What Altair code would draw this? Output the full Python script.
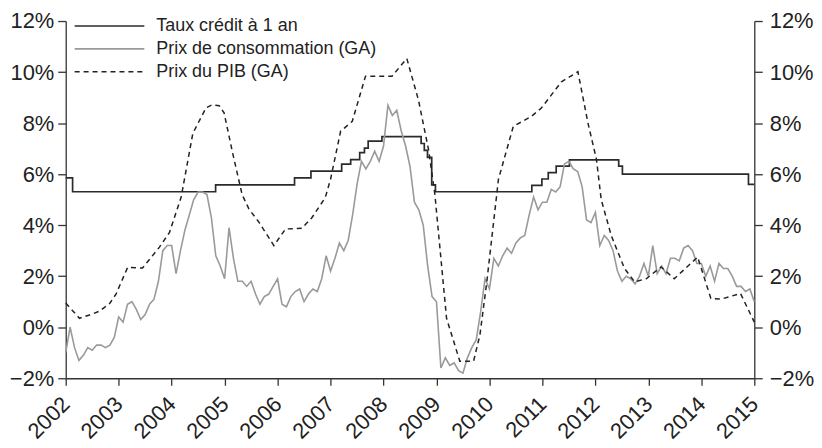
import altair as alt
import pandas as pd

# ---------------- data ----------------
year_ticks = list(range(2002, 2016))
pct_ticks = [-2, 0, 2, 4, 6, 8, 10, 12]

labels = ["Taux crédit à 1 an", "Prix de consommation (GA)", "Prix du PIB (GA)"]

# 1-year lending rate: change dates (decimal years) and level after change
rate_t = [2002.0, 2002.13, 2004.83, 2006.32, 2006.63, 2007.21, 2007.38, 2007.55,
          2007.64, 2007.71, 2007.97, 2008.71, 2008.77, 2008.83, 2008.91, 2008.98,
          2010.80, 2010.99, 2011.11, 2011.26, 2011.51, 2012.44, 2012.51, 2014.89,
          2015.0]
rate_v = [5.85, 5.31, 5.58, 5.85, 6.12, 6.39, 6.57, 6.84,
          7.02, 7.29, 7.47, 7.20, 6.93, 6.66, 5.58, 5.31,
          5.56, 5.81, 6.06, 6.31, 6.56, 6.31, 6.00, 5.60,
          5.60]

# Consumer prices, y/y %, monthly from Jan 2002 to Jan 2015
cpi_v = [
    -1.0, 0.0, -0.8, -1.3, -1.1, -0.8, -0.9, -0.7, -0.7, -0.8, -0.7, -0.4,
    0.4, 0.2, 0.9, 1.0, 0.7, 0.3, 0.5, 0.9, 1.1, 1.8, 3.0, 3.2,
    3.2, 2.1, 3.0, 3.8, 4.4, 5.0, 5.3, 5.3, 5.2, 4.3, 2.8, 2.4,
    1.9, 3.9, 2.7, 1.8, 1.8, 1.6, 1.8, 1.3, 0.9, 1.2, 1.3, 1.6,
    1.9, 0.9, 0.8, 1.2, 1.4, 1.5, 1.0, 1.3, 1.5, 1.4, 1.9, 2.8,
    2.2, 2.7, 3.3, 3.0, 3.4, 4.4, 5.6, 6.5, 6.2, 6.5, 6.9, 6.5,
    7.1, 8.7, 8.3, 8.5, 7.7, 7.1, 6.3, 4.9, 4.6, 4.0, 2.4, 1.2,
    1.0, -1.6, -1.2, -1.5, -1.4, -1.7, -1.8, -1.2, -0.8, -0.5, 0.6, 1.9,
    1.5, 2.7, 2.4, 2.8, 3.1, 2.9, 3.3, 3.5, 3.6, 4.4, 5.1, 4.6,
    4.9, 4.9, 5.4, 5.3, 5.5, 6.4, 6.5, 6.2, 6.1, 5.5, 4.2, 4.1,
    4.5, 3.2, 3.6, 3.4, 3.0, 2.2, 1.8, 2.0, 1.9, 1.7, 2.0, 2.5,
    2.0, 3.2, 2.1, 2.4, 2.1, 2.7, 2.7, 2.6, 3.1, 3.2, 3.0, 2.5,
    2.5, 2.0, 2.4, 1.8, 2.5, 2.3, 2.3, 2.0, 1.6, 1.6, 1.4, 1.5,
    1.0,
]
cpi_t = [2002 + i / 12 for i in range(len(cpi_v))]

# GDP deflator, y/y % (vertices)
gdp_t = [2002.00, 2002.26, 2002.45, 2002.64, 2002.83, 2002.95, 2003.17, 2003.45,
         2003.77, 2003.96, 2004.18, 2004.40, 2004.65, 2004.77, 2004.90, 2004.99,
         2005.15, 2005.33, 2005.46, 2005.65, 2005.93, 2006.15, 2006.46, 2006.65,
         2006.90, 2007.00, 2007.19, 2007.41, 2007.66, 2008.16, 2008.44, 2008.66,
         2008.85, 2008.97, 2009.19, 2009.44, 2009.70, 2009.82, 2009.95, 2010.17,
         2010.45, 2010.79, 2010.98, 2011.36, 2011.67, 2011.86, 2012.02, 2012.11,
         2012.30, 2012.55, 2012.74, 2012.96, 2013.24, 2013.49, 2013.93, 2014.18,
         2014.37, 2014.74, 2015.00]
gdp_v = [0.95, 0.35, 0.48, 0.63, 0.93, 1.3, 2.35, 2.32,
         3.14, 3.72, 5.1, 7.6, 8.6, 8.72, 8.68, 8.4,
         6.84, 5.2, 4.63, 4.11, 3.2, 3.85, 3.88, 4.3,
         5.08, 5.8, 7.68, 8.07, 9.84, 9.84, 10.53, 8.9,
         6.96, 5.2, 0.35, -1.33, -1.33, -0.3, 1.78, 5.8,
         7.87, 8.26, 8.59, 9.62, 10.01, 8.0, 6.58, 5.0,
         3.59, 2.3, 1.78, 1.9, 2.36, 1.9, 2.75, 1.13,
         1.1, 1.32, 0.2]

rate_df = pd.DataFrame({"t": rate_t, "v": rate_v})
cpi_df = pd.DataFrame({"t": cpi_t, "v": cpi_v})
gdp_df = pd.DataFrame({"t": gdp_t, "v": gdp_v})

# ---------------- styling ----------------
FONT = "Liberation Sans"
C_RATE = "#2b2b2b"
C_CPI = "#9a9a9a"
C_GDP = "#222222"
AX = "#333333"

pct_label = "(datum.value < 0 ? '\u2212' : '') + abs(datum.value) + '%'"

x_enc = alt.X(
    "t:Q",
    scale=alt.Scale(domain=[2002, 2015], nice=False, zero=False),
    axis=alt.Axis(values=year_ticks, format="d", labelAngle=-45, labelAlign="right",
                  labelBaseline="middle", labelPadding=15, tickSize=7,
                  labelFontSize=22, grid=False, title=None, labelFlush=False,
                  labelOverlap=False),
)
y_scale = alt.Scale(domain=[-2, 12], nice=False, zero=False)
y_left = alt.Y("v:Q", scale=y_scale,
               axis=alt.Axis(values=pct_ticks, labelExpr=pct_label, tickSize=8,
                             labelPadding=4, labelFontSize=22, grid=False,
                             title=None, orient="left"))
y_right = alt.Y("v:Q", scale=y_scale,
                axis=alt.Axis(values=pct_ticks, labelExpr=pct_label, tickSize=8,
                              labelPadding=7, labelFontSize=22, grid=False,
                              title=None, orient="right"))

rate_line = alt.Chart(rate_df).mark_line(
    interpolate="step-after", color=C_RATE, strokeWidth=1.7
).encode(x=x_enc, y=y_left)

cpi_line = alt.Chart(cpi_df).mark_line(
    color=C_CPI, strokeWidth=1.6
).encode(x=x_enc, y=y_left)

gdp_line = alt.Chart(gdp_df).mark_line(
    color=C_GDP, strokeWidth=1.5, strokeDash=[5, 4]
).encode(x=x_enc, y=y_left)

main = alt.layer(rate_line, cpi_line, gdp_line)

right_axis = alt.Chart(gdp_df).mark_line(opacity=0).encode(x=x_enc, y=y_right)

# ---------------- manual legend ----------------
leg_styles = [
    dict(color=C_RATE, strokeWidth=1.7),
    dict(color=C_CPI, strokeWidth=1.6),
    dict(color=C_GDP, strokeWidth=1.5, strokeDash=[5, 4]),
]
leg_rows = [5, 28, 51]
legend_layers = []
for lab, sty, yy in zip(labels, leg_styles, leg_rows):
    d = pd.DataFrame({"label": [lab]})
    legend_layers.append(
        alt.Chart(d).mark_rule(**sty).encode(
            x=alt.value(9), x2=alt.value(79), y=alt.value(yy))
    )
    legend_layers.append(
        alt.Chart(d).mark_text(align="left", baseline="middle", fontSize=18,
                               font=FONT, color="#222222").encode(
            x=alt.value(91), y=alt.value(yy), text="label:N")
    )

chart = (
    alt.layer(main, right_axis, *legend_layers)
    .resolve_scale(y="independent")
    .properties(
        width=692, height=359,
        padding={"left": 58, "top": 12, "right": 60, "bottom": 69},
        autosize=alt.AutoSizeParams(type="none"),
    )
    .configure_view(stroke=None)
    .configure_axis(labelFont=FONT, labelColor="#222222", domainColor=AX,
                    tickColor=AX, domainWidth=1.3, tickWidth=1.3)
)

chart.save("out.html", embed_options={"renderer": "svg", "actions": False})
